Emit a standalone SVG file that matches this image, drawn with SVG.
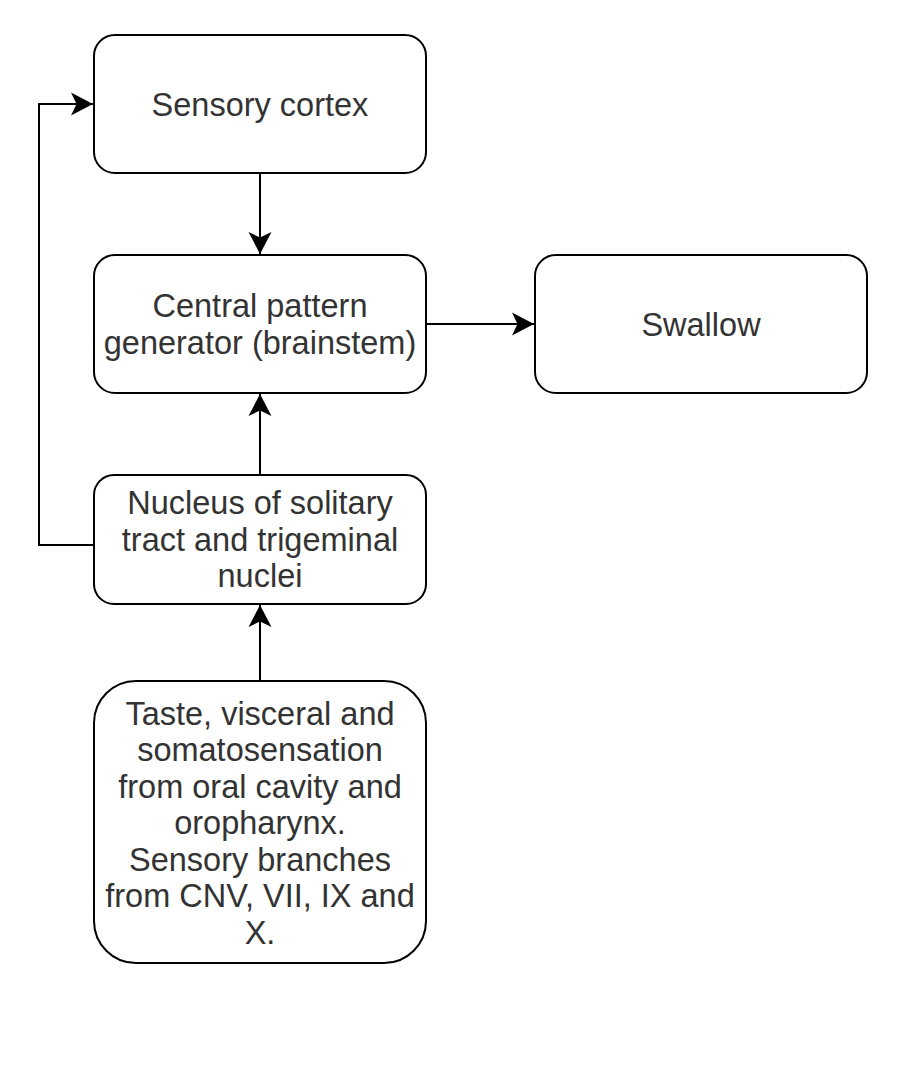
<svg xmlns="http://www.w3.org/2000/svg" width="918" height="1082" viewBox="0 0 918 1082">
<style>
.box{fill:#ffffff;stroke:#000000;stroke-width:2}
.lbl{font-family:"Liberation Sans",Arial,Helvetica,sans-serif;font-size:32.5px;fill:#333333;text-anchor:middle}
.edge{fill:none;stroke:#000000;stroke-width:2}
</style>
<defs>
<marker id="arr" markerUnits="userSpaceOnUse" viewBox="-23 -12 24 24" refX="0" refY="0" markerWidth="24" markerHeight="24" orient="auto">
<path d="M0,0 L-22,-11.5 L-16.5,0 L-22,11.5 Z" fill="#000000"/>
</marker>
</defs>
<rect width="918" height="1082" fill="#ffffff"/>
<g id="connectors">
<path class="edge" d="M260,173 L260,254" marker-end="url(#arr)"/>
<path class="edge" d="M426,324 L534,324" marker-end="url(#arr)"/>
<path class="edge" d="M260,475 L260,394" marker-end="url(#arr)"/>
<path class="edge" d="M260,681 L260,605" marker-end="url(#arr)"/>
<path class="edge" d="M94,545 L39,545 L39,104 L93,104" marker-end="url(#arr)"/>
</g>
<g id="sensory-cortex">
<rect class="box" x="94" y="35" width="332" height="138" rx="21"/>
<text class="lbl" x="260" y="116">Sensory cortex</text>
</g>
<g id="cpg">
<rect class="box" x="94" y="255" width="332" height="138" rx="21"/>
<text class="lbl" x="260" y="317">Central pattern</text>
<text class="lbl" x="260" y="354">generator (brainstem)</text>
</g>
<g id="swallow">
<rect class="box" x="535" y="255" width="332" height="138" rx="21"/>
<text class="lbl" x="701" y="336">Swallow</text>
</g>
<g id="nucleus">
<rect class="box" x="94" y="475" width="332" height="129" rx="20"/>
<text class="lbl" x="260" y="514">Nucleus of solitary</text>
<text class="lbl" x="260" y="550.5">tract and trigeminal</text>
<text class="lbl" x="260" y="587">nuclei</text>
</g>
<g id="taste">
<rect class="box" x="94" y="681" width="332" height="282" rx="42"/>
<text class="lbl" x="260" y="724.5">Taste, visceral and</text>
<text class="lbl" x="260" y="761">somatosensation</text>
<text class="lbl" x="260" y="797.5">from oral cavity and</text>
<text class="lbl" x="260" y="834">oropharynx.</text>
<text class="lbl" x="260" y="870.5">Sensory branches</text>
<text class="lbl" x="260" y="907">from CNV, VII, IX and</text>
<text class="lbl" x="260" y="943.5">X.</text>
</g>
</svg>
